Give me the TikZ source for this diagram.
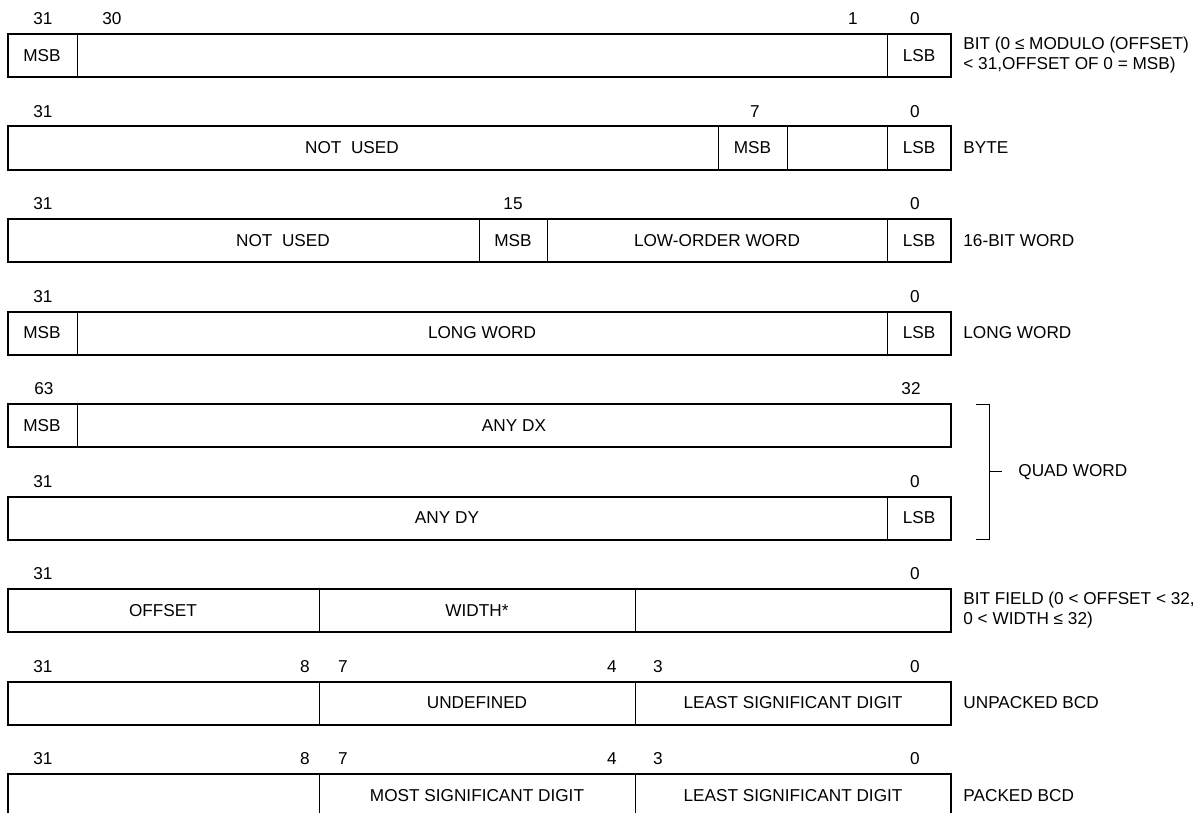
\documentclass[tikz,border=0pt]{standalone}
\usepackage{fontspec}
\setmainfont{Liberation Sans}
\usepackage{tikz}
\usetikzlibrary{positioning}

\begin{document}
\begin{tikzpicture}[x=0.5pt, y=-0.5pt,
  frame/.style={line width=1pt},
  sep/.style={line width=0.5pt},
  cell/.style={inner sep=0pt, font=\fontsize{8.6}{10}\selectfont},
  bitno/.style={inner sep=0pt, font=\fontsize{8.6}{10}\selectfont},
  rowname/.style={anchor=west, inner sep=0pt, align=left, font=\fontsize{8.6}{10}\selectfont}]
\useasboundingbox (0,0) rectangle (1204,813);
\clip (0,0) rectangle (1204,813);
% bit
\draw[frame] (7.5,34) rectangle (951,77);
\draw[sep] (77,34) -- (77,77) (887,34) -- (887,77);
\node[cell] (bit-msb) at (42,55.5) {MSB};
\node[cell] (bit-lsb) at (919,55.5) {LSB};
\node[bitno] (bit-31) at (43,19) {31};
\node[bitno] (bit-30) at (112,19) {30};
\node[bitno] (bit-1) at (853,19) {1};
\node[bitno] (bit-0) at (915,19) {0};
\node[rowname] (bit-name) at (963,55.5) {BIT (0 ≤ MODULO (OFFSET)\\< 31,OFFSET OF 0 = MSB)};
% byte
\draw[frame] (7.5,126.5) rectangle (951,169.5);
\draw[sep] (718,126.5) -- (718,169.5) (787,126.5) -- (787,169.5) (887,126.5) -- (887,169.5);
\node[cell] (byte-free) at (352,148) {NOT\ \ USED};
\node[cell] (byte-msb) at (752.5,148) {MSB};
\node[cell] (byte-lsb) at (919,148) {LSB};
\node[bitno] (byte-31) at (43,111.5) {31};
\node[bitno] (byte-7) at (755,111.5) {7};
\node[bitno] (byte-0) at (915,111.5) {0};
\node[rowname] (byte-name) at (963,148) {BYTE};
% 16-bit word
\draw[frame] (7.5,219) rectangle (951,262);
\draw[sep] (479,219) -- (479,262) (547,219) -- (547,262) (887,219) -- (887,262);
\node[cell] (word-free) at (283,240.5) {NOT\ \ USED};
\node[cell] (word-msb) at (513,240.5) {MSB};
\node[cell] (word-low) at (717,240.5) {LOW-ORDER WORD};
\node[cell] (word-lsb) at (919,240.5) {LSB};
\node[bitno] (word-31) at (43,204) {31};
\node[bitno] (word-15) at (513,204) {15};
\node[bitno] (word-0) at (915,204) {0};
\node[rowname] (word-name) at (963,240.5) {16-BIT WORD};
% long word
\draw[frame] (7.5,311.5) rectangle (951,354.5);
\draw[sep] (77,311.5) -- (77,354.5) (887,311.5) -- (887,354.5);
\node[cell] (long-msb) at (42,333) {MSB};
\node[cell] (long-body) at (482,333) {LONG WORD};
\node[cell] (long-lsb) at (919,333) {LSB};
\node[bitno] (long-31) at (43,296.5) {31};
\node[bitno] (long-0) at (915,296.5) {0};
\node[rowname] (long-name) at (963,333) {LONG WORD};
% quad word, high half
\draw[frame] (7.5,404) rectangle (951,447);
\draw[sep] (77,404) -- (77,447);
\node[cell] (quadhi-msb) at (42,425.5) {MSB};
\node[cell] (quadhi-body) at (514,425.5) {ANY DX};
\node[bitno] (quadhi-63) at (44,389) {63};
\node[bitno] (quadhi-32) at (911,389) {32};
% quad word, low half
\draw[frame] (7.5,496.5) rectangle (951,539.5);
\draw[sep] (887,496.5) -- (887,539.5);
\node[cell] (quadlo-body) at (447,518) {ANY DY};
\node[cell] (quadlo-lsb) at (919,518) {LSB};
\node[bitno] (quadlo-31) at (43,481.5) {31};
\node[bitno] (quadlo-0) at (915,481.5) {0};
\coordinate (quad-top) at (976,404);
\coordinate (quad-bot) at (976,539.5);
\coordinate (quad-mid) at (989,471.75);
\node[rowname] (quad-name) at (1018,471.75) {QUAD WORD};
\draw[sep] (quad-top) -- (quad-top -| quad-mid) -- (quad-bot -| quad-mid) -- (quad-bot);
\draw[sep] (quad-mid) -- ++(13,0);
% bit field
\draw[frame] (7.5,589) rectangle (951,632);
\draw[sep] (319,589) -- (319,632) (635,589) -- (635,632);
\node[cell] (field-off) at (163,610.5) {OFFSET};
\node[cell] (field-wid) at (477,610.5) {WIDTH*};
\node[bitno] (field-31) at (43,574) {31};
\node[bitno] (field-0) at (915,574) {0};
\node[rowname] (field-name) at (963,610.5) {BIT FIELD (0 < OFFSET < 32,\\0 < WIDTH ≤ 32)};
% unpacked bcd
\draw[frame] (7.5,681.5) rectangle (951,724.5);
\draw[sep] (319,681.5) -- (319,724.5) (635,681.5) -- (635,724.5);
\node[cell] (ubcd-hi) at (477,703) {UNDEFINED};
\node[cell] (ubcd-lo) at (793,703) {LEAST SIGNIFICANT DIGIT};
\node[bitno] (ubcd-31) at (43,666.5) {31};
\node[bitno] (ubcd-8) at (305,666.5) {8};
\node[bitno] (ubcd-7) at (343,666.5) {7};
\node[bitno] (ubcd-4) at (612,666.5) {4};
\node[bitno] (ubcd-3) at (658,666.5) {3};
\node[bitno] (ubcd-0) at (915,666.5) {0};
\node[rowname] (ubcd-name) at (963,703) {UNPACKED BCD};
% packed bcd
\draw[frame] (7.5,774) rectangle (951,817);
\draw[sep] (319,774) -- (319,817) (635,774) -- (635,817);
\node[cell] (pbcd-hi) at (477,795.5) {MOST SIGNIFICANT DIGIT};
\node[cell] (pbcd-lo) at (793,795.5) {LEAST SIGNIFICANT DIGIT};
\node[bitno] (pbcd-31) at (43,759) {31};
\node[bitno] (pbcd-8) at (305,759) {8};
\node[bitno] (pbcd-7) at (343,759) {7};
\node[bitno] (pbcd-4) at (612,759) {4};
\node[bitno] (pbcd-3) at (658,759) {3};
\node[bitno] (pbcd-0) at (915,759) {0};
\node[rowname] (pbcd-name) at (963,795.5) {PACKED BCD};
\end{tikzpicture}
\end{document}
